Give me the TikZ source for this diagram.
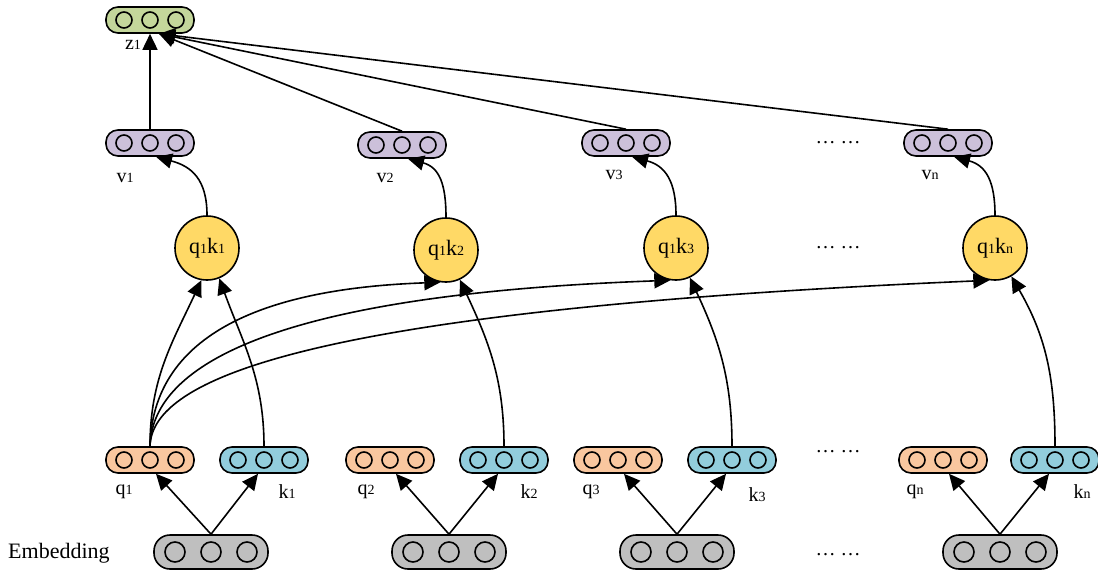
\documentclass[tikz,border=0pt]{standalone}
\usepackage{fontspec}
\setmainfont{Liberation Serif}
\usetikzlibrary{arrows.meta}

\definecolor{qorange}{HTML}{F9C79F}
\definecolor{kblue}{HTML}{92CDDC}
\definecolor{vpurple}{HTML}{CCC0DA}
\definecolor{zgreen}{HTML}{C4D79B}
\definecolor{embgray}{HTML}{BFBFBF}
\definecolor{attyellow}{HTML}{FFD966}

% small index digit
\newcommand{\ix}[1]{{\fontsize{14}{14}\selectfont #1}}
% three cells inside a vector box
\newcommand{\cells}[3]{\foreach \dx in {-1,0,1} \draw[line width=1.6pt] ([xshift=\dx*#2]#1.center) circle (#3);}

\tikzset{
  vec/.style={draw, line width=1.6pt, rounded corners=12pt, minimum width=88pt, minimum height=26pt, inner sep=0pt},
  qvec/.style={vec, fill=qorange},
  kvec/.style={vec, fill=kblue},
  vvec/.style={vec, fill=vpurple},
  zvec/.style={vec, fill=zgreen},
  emb/.style={vec, fill=embgray, minimum width=114pt, minimum height=34pt, rounded corners=16pt},
  att/.style={circle, draw, line width=1.6pt, fill=attyellow, minimum size=64pt, inner sep=0pt, font=\fontsize{22}{24}\selectfont},
  lbl/.style={font=\fontsize{20}{22}\selectfont, inner sep=0pt},
  arr/.style={line width=1.6pt, -{Triangle[length=16pt,width=15pt]}},
}

\begin{document}
\begin{tikzpicture}[x=1pt,y=-1pt]
\useasboundingbox (0,0) rectangle (1098,571);

% embeddings
\node[emb] (e1) at (211,552) {};
\node[emb] (e2) at (449,552) {};
\node[emb] (e3) at (677,552) {};
\node[emb] (en) at (1000,552) {};
\foreach \n in {e1,e2,e3,en} {\cells{\n}{36pt}{10pt}}
\node[lbl, anchor=west, font=\fontsize{22}{24}\selectfont] (embl) at (8,553) {Embedding};

% queries and keys
\node[qvec] (q1) at (150,460) {};
\node[kvec] (k1) at (264,460) {};
\node[qvec] (q2) at (390,460) {};
\node[kvec] (k2) at (504,460) {};
\node[qvec] (q3) at (618,460) {};
\node[kvec] (k3) at (732,460) {};
\node[qvec] (qn) at (943,460) {};
\node[kvec] (kn) at (1055,460) {};
\foreach \n in {q1,k1,q2,k2,q3,k3,qn,kn} {\cells{\n}{26pt}{8pt}}

\node[lbl] (q1l) at (124,492) {q\ix{1}};
\node[lbl] (k1l) at (287,492) {k\ix{1}};
\node[lbl] (q2l) at (366,492) {q\ix{2}};
\node[lbl] (k2l) at (529,492) {k\ix{2}};
\node[lbl] (q3l) at (591,492) {q\ix{3}};
\node[lbl] (k3l) at (757,495) {k\ix{3}};
\node[lbl] (qnl) at (915,492) {q\ix{n}};
\node[lbl] (knl) at (1082,492) {k\ix{n}};

% attention scores
\node[att] (a1) at (207,248) {q\ix{1}k\ix{1}};
\node[att] (a2) at (446,250) {q\ix{1}k\ix{2}};
\node[att] (a3) at (676,248) {q\ix{1}k\ix{3}};
\node[att] (an) at (995,248) {q\ix{1}k\ix{n}};

% values
\node[vvec] (v1) at (150,143) {};
\node[vvec] (v2) at (402,145) {};
\node[vvec] (v3) at (626,143) {};
\node[vvec] (vn) at (948,143) {};
\foreach \n in {v1,v2,v3,vn} {\cells{\n}{26pt}{8pt}}
\node[lbl] (v1l) at (125,178) {v\ix{1}};
\node[lbl] (v2l) at (385,178) {v\ix{2}};
\node[lbl] (v3l) at (614,175) {v\ix{3}};
\node[lbl] (vnl) at (930,175) {v\ix{n}};

% output
\node[zvec] (z1) at (150,20) {};
\cells{z1}{26pt}{8pt}
\node[lbl] (z1l) at (133,45) {z\ix{1}};
\coordinate (zin) at ([xshift=9pt]z1.south);

% ellipses
\foreach \y/\nm in {143/d1,248/d2,452/d3,555/d4}
  \node[lbl] (\nm) at (838,\y) {… …};

% embedding -> q, k
\foreach \e/\q/\k in {e1/q1/k1,e2/q2/k2,e3/q3/k3,en/qn/kn} {
  \draw[arr] (\e.north) -- ([xshift=6pt]\q.south);
  \draw[arr] (\e.north) -- ([xshift=-6pt]\k.south);
}

% q1 and k -> scores
\draw[arr] (q1.north) to[out=90,in=-115] (a1.-100);
\draw[arr] (k1.north) to[out=90,in=-70] (a1.-68);
\draw[arr] (q1.north) .. controls (152,360) and (220,290) .. (a2.-100);
\draw[arr] (q1.north) .. controls (152,370) and (260,295) .. (a3.-100);
\draw[arr] (q1.north) .. controls (152,380) and (300,310) .. (an.-100);
\draw[arr] (k2.north) to[out=90,in=-65] (a2.-65);
\draw[arr] (k3.north) to[out=90,in=-65] (a3.-65);
\draw[arr] (kn.north) to[out=90,in=-60] (an.-60);

% scores -> values
\draw[arr] (a1.north) to[out=90,in=-15,looseness=1.2] ([xshift=6pt]v1.south);
\draw[arr] (a2.north) to[out=90,in=-15,looseness=1.2] ([xshift=6pt]v2.south);
\draw[arr] (a3.north) to[out=90,in=-15,looseness=1.2] ([xshift=6pt]v3.south);
\draw[arr] (an.north) to[out=90,in=-15,looseness=1.2] ([xshift=6pt]vn.south);

% values -> output
\draw[arr] (v1.north) -- (z1.south);
\draw[arr] (v2.north) -- (zin);
\draw[arr] (v3.north) -- (zin);
\draw[arr] (vn.north) -- (zin);
\end{tikzpicture}
\end{document}
